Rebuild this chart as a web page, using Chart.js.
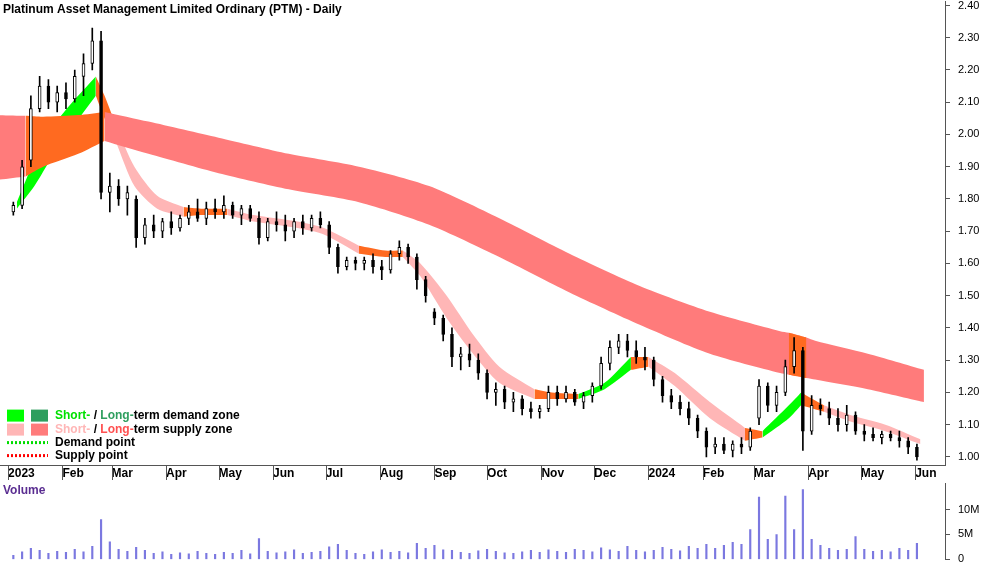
<!DOCTYPE html>
<html>
<head>
<meta charset="utf-8">
<script src="https://cdn.jsdelivr.net/npm/chart.js@4.4.1/dist/chart.umd.min.js"></script>
<style>
  body { margin: 0; background: #fff; overflow: hidden; }
  #wrap { position: relative; width: 1000px; height: 562px; overflow: hidden; }
  #price { position: absolute; left: 0; top: -13px; }
  #vol { position: absolute; left: 0; top: 469px; }
</style>
</head>
<body>
<div id="wrap">
  <canvas id="price" width="1000" height="493"></canvas>
  <canvas id="vol" width="1000" height="105"></canvas>
</div>
<script>
// day number counted from 1 Jan 2023
const candleDays = [3,8,13,18,23,28,33,38,43,48,53,58,63,68,73,78,83,88,93,98,103,108,113,118,123,128,133,138,143,148,153,158,163,168,173,178,183,188,193,198,203,208,213,218,223,228,233,238,243,248,253,258,263,268,273,278,283,288,293,298,303,308,313,318,323,328,333,338,343,348,353,358,363,368,373,378,383,388,393,398,403,408,413,418,423,428,433,438,443,448,453,458,463,468,473,478,483,488,493,498,503,508,513,518];
// [open, high, low, close]
const ohlc = [
 [1.76,1.79,1.75,1.78],[1.78,1.92,1.77,1.90],[1.92,2.12,1.90,2.08],[2.08,2.18,2.07,2.15],[2.15,2.17,2.08,2.10],
 [2.10,2.15,2.07,2.13],[2.13,2.16,2.08,2.11],[2.11,2.20,2.10,2.18],[2.18,2.25,2.12,2.22],[2.22,2.33,2.20,2.29],
 [2.29,2.32,1.80,1.82],[1.82,1.88,1.76,1.84],[1.84,1.86,1.78,1.80],[1.80,1.84,1.75,1.82],[1.80,1.81,1.65,1.68],
 [1.68,1.74,1.66,1.72],[1.72,1.75,1.68,1.70],[1.70,1.74,1.68,1.73],[1.73,1.76,1.69,1.71],[1.71,1.75,1.70,1.74],
 [1.74,1.78,1.72,1.76],[1.76,1.80,1.73,1.74],[1.74,1.79,1.72,1.77],[1.77,1.80,1.74,1.76],[1.76,1.81,1.74,1.78],
 [1.78,1.79,1.74,1.75],[1.75,1.78,1.72,1.77],[1.77,1.78,1.73,1.74],[1.74,1.76,1.66,1.68],[1.68,1.74,1.67,1.73],
 [1.73,1.76,1.70,1.72],[1.72,1.75,1.67,1.70],[1.70,1.74,1.68,1.73],[1.73,1.75,1.69,1.71],[1.71,1.75,1.70,1.74],
 [1.74,1.76,1.71,1.72],[1.72,1.73,1.63,1.65],[1.65,1.66,1.57,1.59],[1.59,1.62,1.58,1.61],[1.61,1.62,1.58,1.60],
 [1.60,1.62,1.58,1.61],[1.61,1.63,1.57,1.59],[1.59,1.61,1.55,1.58],[1.58,1.64,1.57,1.63],[1.63,1.67,1.61,1.65],
 [1.65,1.66,1.60,1.62],[1.62,1.63,1.52,1.55],[1.55,1.56,1.48,1.50],[1.45,1.46,1.41,1.43],[1.43,1.44,1.36,1.38],
 [1.38,1.40,1.28,1.31],[1.31,1.34,1.27,1.32],[1.32,1.35,1.28,1.30],[1.30,1.32,1.24,1.26],[1.26,1.27,1.18,1.20],
 [1.20,1.23,1.16,1.21],[1.21,1.22,1.15,1.17],[1.17,1.20,1.14,1.18],[1.18,1.19,1.13,1.15],[1.15,1.17,1.12,1.14],
 [1.14,1.16,1.12,1.15],[1.15,1.22,1.14,1.20],[1.20,1.22,1.16,1.18],[1.18,1.22,1.17,1.20],[1.20,1.21,1.16,1.17],
 [1.17,1.20,1.15,1.19],[1.19,1.23,1.17,1.22],[1.22,1.31,1.21,1.29],[1.29,1.36,1.27,1.34],[1.34,1.38,1.32,1.36],
 [1.36,1.38,1.31,1.33],[1.33,1.36,1.29,1.31],[1.31,1.34,1.27,1.30],[1.30,1.31,1.22,1.24],[1.24,1.25,1.17,1.19],
 [1.19,1.21,1.15,1.17],[1.17,1.19,1.13,1.15],[1.15,1.17,1.10,1.12],[1.12,1.13,1.06,1.08],[1.08,1.09,1.00,1.03],
 [1.03,1.06,1.01,1.04],[1.04,1.06,1.01,1.02],[1.02,1.05,1.00,1.04],[1.04,1.06,1.01,1.03],[1.03,1.09,1.02,1.08],
 [1.12,1.24,1.10,1.22],[1.22,1.23,1.14,1.16],[1.16,1.22,1.14,1.20],[1.20,1.30,1.19,1.28],[1.28,1.37,1.26,1.33],
 [1.33,1.34,1.02,1.08],[1.08,1.19,1.07,1.16],[1.16,1.18,1.13,1.15],[1.15,1.17,1.10,1.12],[1.12,1.15,1.08,1.10],
 [1.10,1.16,1.08,1.13],[1.13,1.14,1.07,1.08],[1.08,1.10,1.05,1.07],[1.07,1.09,1.05,1.06],[1.06,1.08,1.04,1.07],
 [1.07,1.08,1.05,1.06],[1.06,1.08,1.03,1.05],[1.05,1.06,1.01,1.03],[1.03,1.04,0.99,1.00]
];
// volume in millions
const volume = [0.8,1.5,2.2,1.8,1.2,1.6,1.4,2.0,1.5,2.6,8.0,3.5,2.0,1.6,2.4,1.8,1.2,1.5,1.0,1.3,
 1.1,1.6,1.2,1.0,1.4,1.2,1.8,1.1,4.2,1.6,1.3,1.5,1.9,1.2,1.4,1.6,2.5,3.0,1.8,1.2,
 1.0,1.5,1.9,1.4,1.6,1.3,3.2,2.2,2.8,1.9,1.8,1.4,1.2,1.7,2.0,1.6,1.3,1.2,1.5,1.8,
 1.4,1.9,1.6,1.4,2.0,1.8,1.5,2.3,1.9,1.6,2.6,1.8,1.5,1.8,2.4,2.0,1.7,2.6,2.2,3.0,
 2.2,2.8,3.4,3.0,6.0,12.5,4.0,5.0,12.7,6.0,14.0,4.0,2.8,2.2,1.8,2.0,4.6,2.0,1.6,1.8,
 1.5,2.2,1.8,3.2];

const longDays = [-5,10,20,40,55,80,120,160,200,240,280,320,360,400,440,445,455,460,490,522];
const longTop  = [2.06,2.058,2.055,2.06,2.07,2.04,1.99,1.94,1.90,1.84,1.74,1.63,1.53,1.45,1.39,1.385,1.37,1.36,1.32,1.27];
const longBot  = [1.86,1.87,1.90,1.94,1.98,1.94,1.88,1.83,1.79,1.72,1.62,1.51,1.41,1.32,1.26,1.255,1.245,1.24,1.21,1.17];
const longZone = ['r','o','o','o','r','r','r','r','r','r','r','r','r','r','r','o','r','r','r','r'];

const shortDays = [5,15,25,35,50,55,62,72,85,100,110,125,140,165,180,200,215,225,235,250,265,280,300,310,325,340,355,365,380,400,420,430,445,452,465,480,500,520];
const shortTop  = [1.79,1.92,2.02,2.09,2.18,2.12,2.02,1.90,1.81,1.775,1.77,1.77,1.75,1.73,1.71,1.655,1.64,1.64,1.60,1.50,1.38,1.28,1.21,1.20,1.195,1.23,1.31,1.31,1.26,1.17,1.09,1.08,1.16,1.20,1.16,1.13,1.10,1.055];
const shortBot  = [1.77,1.84,1.93,2.01,2.12,2.05,1.97,1.84,1.77,1.745,1.75,1.75,1.73,1.71,1.69,1.63,1.62,1.62,1.56,1.43,1.32,1.23,1.18,1.18,1.18,1.21,1.27,1.28,1.22,1.12,1.05,1.06,1.12,1.16,1.14,1.11,1.08,1.04];
const shortZone = ['g','g','g','g','o','o','p','p','p','o','o','p','p','p','p','o','o','p','p','p','p','p','o','o','g','g','o','p','p','p','o','g','g','o','p','p','p','p'];

const monthDays = [0,31,59,90,120,151,181,212,243,273,304,334,365,396,425,456,486,517];
const monthLabels = ['2023','Feb','Mar','Apr','May','Jun','Jul','Aug','Sep','Oct','Nov','Dec','2024','Feb','Mar','Apr','May','Jun'];

const zoneColours = { o: '#ff6a20', r: '#ff7b7b', p: '#ffb6b6', g: '#00ff00' };
const X_MIN = -4.6, X_MAX = 534;

function bandSets(days, top, bot, zone) {
  const sets = [];
  Object.keys(zoneColours).forEach(c => {
    if (!zone.includes(c)) return;
    const keep = days.map((d, i) => zone[i] === c || (i > 0 && zone[i - 1] === c));
    const mk = arr => days.map((d, i) => ({ x: d, y: keep[i] ? arr[i] : null }));
    const base = { type: 'line', pointRadius: 0, borderWidth: 0, tension: 0.25, spanGaps: false, order: 10, borderColor: 'transparent' };
    sets.push(Object.assign({}, base, { data: mk(top), fill: '+1', backgroundColor: zoneColours[c] }));
    sets.push(Object.assign({}, base, { data: mk(bot), fill: false, backgroundColor: zoneColours[c] }));
  });
  return sets;
}

const wicks = candleDays.map((d, i) => ({ x: d, y: [ohlc[i][2], ohlc[i][1]] }));
const bodies = candleDays.map((d, i) => ({ x: d, y: [ohlc[i][0], ohlc[i][3]] }));
const bodyColours = ohlc.map(v => v[3] >= v[0] ? '#ffffff' : '#000000');

const overlay = {
  id: 'overlay',
  afterDraw(chart) {
    const ctx = chart.ctx;
    const top = chart.chartArea.top;
    const bot = chart.chartArea.bottom;
    ctx.save();
    // month separators on the time axis
    ctx.strokeStyle = '#555';
    ctx.lineWidth = 1;
    monthDays.forEach(d => {
      const px = Math.round(chart.scales.x.getPixelForValue(d)) + 0.5;
      ctx.beginPath(); ctx.moveTo(px, bot); ctx.lineTo(px, bot + 15); ctx.stroke();
    });
    ctx.fillStyle = '#000';
    ctx.font = 'bold 12px "Liberation Sans", Arial, sans-serif';
    ctx.textBaseline = 'middle';
    ctx.fillText('Platinum Asset Management Limited Ordinary (PTM) - Daily', 3, top + 8);
    // legend
    const o = top;
    ctx.fillStyle = '#00ff00'; ctx.fillRect(7, o + 408, 17, 12);
    ctx.fillStyle = '#2e9e5e'; ctx.fillRect(31, o + 408, 17, 12);
    ctx.fillStyle = '#ffb6b6'; ctx.fillRect(7, o + 422, 17, 12);
    ctx.fillStyle = '#ff7b7b'; ctx.fillRect(31, o + 422, 17, 12);
    const row = (y, parts) => {
      let x = 55;
      parts.forEach(([t, c]) => { ctx.fillStyle = c; ctx.fillText(t, x, o + y); x += ctx.measureText(t).width; });
    };
    row(414, [['Short-', '#00e000'], [' / ', '#000'], ['Long-', '#2e9e5e'], ['term demand zone', '#000']]);
    row(428, [['Short-', '#ffb6b6'], [' / ', '#000'], ['Long-', '#ff5050'], ['term supply zone', '#000']]);
    row(441, [['Demand point', '#000']]);
    row(454, [['Supply point', '#000']]);
    ctx.lineWidth = 3;
    ctx.setLineDash([2, 2]);
    ctx.strokeStyle = '#00dd00';
    ctx.beginPath(); ctx.moveTo(7, o + 441); ctx.lineTo(48, o + 441); ctx.stroke();
    ctx.strokeStyle = '#ff0000';
    ctx.beginPath(); ctx.moveTo(7, o + 454); ctx.lineTo(48, o + 454); ctx.stroke();
    ctx.restore();
  }
};

const axisFont = { family: '"Liberation Sans", Arial, sans-serif', size: 11 };

new Chart(document.getElementById('price'), {
  type: 'bar',
  data: {
    datasets: [
      ...bandSets(longDays, longTop, longBot, longZone),
      ...bandSets(shortDays, shortTop, shortBot, shortZone),
      { type: 'bar', data: wicks, backgroundColor: '#000', barThickness: 1, grouped: false, order: 2 },
      { type: 'bar', data: bodies, backgroundColor: bodyColours, borderColor: '#000', borderWidth: 1,
        borderSkipped: false, barThickness: 3, grouped: false, order: 1, minBarLength: 1 }
    ]
  },
  options: {
    responsive: false, animation: false,
    layout: { padding: 0 },
    plugins: { legend: { display: false }, tooltip: { enabled: false } },
    scales: {
      x: {
        type: 'linear', min: X_MIN, max: X_MAX, offset: false,
        afterBuildTicks: s => { s.ticks = monthDays.map(v => ({ value: v })); },
        afterFit: s => { s.height = 15; },
        ticks: {
          callback: (v) => monthLabels[monthDays.indexOf(v)],
          align: 'start', padding: 1, maxRotation: 0, autoSkip: false,
          color: '#000', font: { family: axisFont.family, size: 12, weight: 'bold' }
        },
        grid: { drawOnChartArea: false, drawTicks: false, offset: false },
        border: { color: '#555' }
      },
      y: {
        position: 'right', min: 0.975, max: 2.412,
        afterBuildTicks: s => { s.ticks = []; for (let k = 10; k <= 24; k++) s.ticks.push({ value: k / 10 }); },
        afterFit: s => { s.width = 55; },
        ticks: { callback: v => v.toFixed(2), color: '#000', font: axisFont, padding: 8 },
        grid: { drawOnChartArea: false, tickLength: 5, color: '#555' },
        border: { color: '#555' }
      }
    }
  },
  plugins: [overlay]
});

const volLabel = {
  id: 'volLabel',
  afterDraw(chart) {
    const ctx = chart.ctx;
    ctx.save();
    ctx.fillStyle = '#5a2d91';
    ctx.font = 'bold 12px "Liberation Sans", Arial, sans-serif';
    ctx.textBaseline = 'middle';
    ctx.fillText('Volume', 3, chart.chartArea.top + 7);
    ctx.restore();
  }
};

new Chart(document.getElementById('vol'), {
  type: 'bar',
  data: {
    datasets: [{ data: candleDays.map((d, i) => ({ x: d, y: volume[i] })), backgroundColor: '#7b78e0', barThickness: 1.5 }]
  },
  options: {
    responsive: false, animation: false,
    layout: { padding: { bottom: 4 } },
    plugins: { legend: { display: false }, tooltip: { enabled: false } },
    scales: {
      x: { type: 'linear', min: X_MIN, max: X_MAX, display: false, offset: false, grid: { offset: false } },
      y: {
        position: 'right', min: 0, max: 15.2,
        afterBuildTicks: s => { s.ticks = [0, 5, 10].map(v => ({ value: v })); },
        afterFit: s => { s.width = 55; },
        ticks: { callback: v => v === 0 ? '0' : v + 'M', color: '#000', font: axisFont, padding: 8 },
        grid: { drawOnChartArea: false, tickLength: 5, color: '#555' },
        border: { color: '#555' }
      }
    }
  },
  plugins: [volLabel]
});
</script>
</body>
</html>
